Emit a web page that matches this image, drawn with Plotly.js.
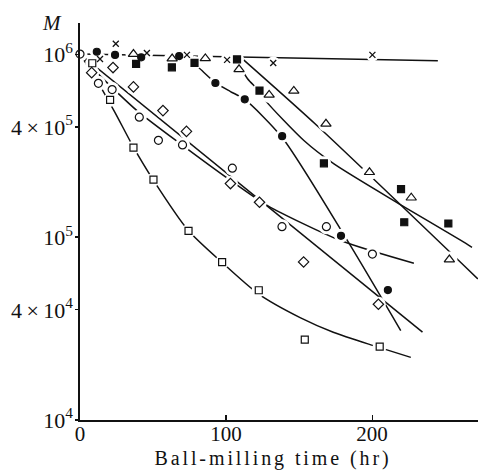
<!DOCTYPE html>
<html>
<head>
<meta charset="utf-8">
<script src="https://cdn.plot.ly/plotly-3.0.1.min.js"></script>
<style>
  html, body { margin: 0; padding: 0; background: #fff; }
  #chart { width: 479px; height: 470px; }
  .xtitle { letter-spacing: 2.9px; transform: translateX(-6px); }
</style>
</head>
<body>
<div id="chart"></div>
<script>
// ---- Data (x: ball-milling time in hr, y: M) ----
// Open squares
const sqOpenX = [8.4, 20.6, 36.6, 50.3, 74.3, 97.3, 122.4, 153.9, 205.2];
const sqOpenY = [8.91e5, 5.62e5, 3.08e5, 2.06e5, 1.08e5, 7.30e4, 5.12e4, 2.75e4, 2.52e4];
const sqOpenFitX = [0, 11.6, 24.0, 36.3, 50.0, 74.0, 97.3, 121.9, 150.7, 173.4, 200.9, 226.5];
const sqOpenFitY = [1e6, 7.17e5, 4.79e5, 3.13e5, 2.06e5, 1.09e5, 7.26e4, 4.91e4, 3.63e4, 3.02e4, 2.55e4, 2.20e4];

// Open circles
const circX = [0, 12.6, 22.0, 40.6, 53.7, 70.2, 104.3, 138.3, 168.7, 200.2];
const circY = [1e6, 6.92e5, 6.40e5, 4.52e5, 3.38e5, 3.19e5, 2.38e5, 1.14e5, 1.14e5, 8.07e4];
const circFitX = [0, 6.9, 22.0, 39.8, 68.6, 103, 128.1, 178.4, 228.6];
const circFitY = [1e6, 8.65e5, 6.56e5, 4.85e5, 3.24e5, 2.04e5, 1.49e5, 9.57e4, 7.19e4];

// Open diamonds
const diaX = [8.0, 22.6, 36.6, 56.8, 72.9, 103.0, 122.9, 153.1, 204.3];
const diaY = [7.92e5, 8.44e5, 6.62e5, 4.91e5, 3.78e5, 1.96e5, 1.55e5, 7.31e4, 4.29e4];
const diaFitX = [0, 234.5];
const diaFitY = [1e6, 3.02e4];

// Filled circles
const dotX = [11.5, 24.0, 41.9, 67.9, 92.7, 112.8, 138.4, 178.7, 210.8];
const dotY = [1.03e6, 0.99e6, 0.96e6, 0.975e6, 6.95e5, 5.66e5, 3.56e5, 1.016e5, 5.13e4];
const dotFitX = [71.9, 81.0, 92.7, 103, 112.6, 138.4, 183.0, 219.6];
const dotFitY = [9.75e5, 8.47e5, 6.98e5, 6.24e5, 5.67e5, 3.50e5, 9.58e4, 3.08e4];

// Filled squares
const sqFillX = [38.4, 62.9, 78.4, 107.5, 122.9, 167, 219.8, 222, 252.2];
const sqFillY = [8.84e5, 8.47e5, 8.95e5, 9.36e5, 6.32e5, 2.53e5, 1.83e5, 1.205e5, 1.186e5];
const sqFillFitX = [107.1, 114.6, 122.3, 127, 153.3, 173.9, 219.6, 260.8, 268.4];
const sqFillFitY = [9.39e5, 7.35e5, 6.32e5, 5.57e5, 3.37e5, 2.51e5, 1.50e5, 9.58e4, 8.79e4];

// Open triangles
const triX = [36.6, 63.1, 85.8, 108.9, 129.5, 146.4, 168.4, 198.2, 226.8, 252.9];
const triY = [1.0e6, 9.45e5, 9.47e5, 8.26e5, 5.98e5, 6.29e5, 4.16e5, 2.26e5, 1.64e5, 7.53e4];
const triFitX = [109.5, 162.4, 272.4];
const triFitY = [9.69e5, 4.06e5, 5.91e4];

// Crosses
const crossX = [13.7, 24.5, 45.8, 73.2, 100.7, 132.3, 200.2];
const crossY = [9.4e5, 1.14e6, 1.015e6, 0.99e6, 0.93e6, 0.895e6, 0.99e6];
const crossFitX = [0, 245];
const crossFitY = [1e6, 9.2e5];

// Ticks
const xTickVals = [0, 100, 200];
const xTickText = ['0', '100', '200'];
const yTickVals = [1e4, 4e4, 1e5, 4e5, 1e6];
const yTickText = ['10<sup>4</sup>', '4\u2009×\u200910<sup>4</sup>', '10<sup>5</sup>', '4\u2009×\u200910<sup>5</sup>', '10<sup>6</sup>'];

// ---- Build traces ----
const INK = '#111';
const fits = [
  [sqOpenFitX, sqOpenFitY], [circFitX, circFitY], [diaFitX, diaFitY],
  [dotFitX, dotFitY], [sqFillFitX, sqFillFitY], [triFitX, triFitY], [crossFitX, crossFitY]
];
const series = [
  {x: sqOpenX, y: sqOpenY, symbol: 'square', size: 7, fill: '#fff'},
  {x: circX, y: circY, symbol: 'circle', size: 8, fill: '#fff'},
  {x: diaX, y: diaY, symbol: 'diamond', size: 8, fill: '#fff'},
  {x: dotX, y: dotY, symbol: 'circle', size: 7, fill: INK},
  {x: sqFillX, y: sqFillY, symbol: 'square', size: 7, fill: INK},
  {x: triX, y: triY, symbol: 'triangle-up', size: 9, fill: '#fff'},
  {x: crossX, y: crossY, symbol: 'x-thin', size: 6, fill: INK}
];

const traces = [];
fits.forEach(([fx, fy]) => traces.push({
  x: fx, y: fy, type: 'scatter', mode: 'lines',
  line: {color: INK, width: 1.5, shape: 'spline', smoothing: 0.7},
  hoverinfo: 'skip', showlegend: false
}));
series.forEach(s => traces.push({
  x: s.x, y: s.y, type: 'scatter', mode: 'markers', cliponaxis: false,
  marker: {symbol: 'circle', size: s.size + 7, color: '#fff', line: {width: 0}},
  hoverinfo: 'skip', showlegend: false
}));
series.forEach(s => traces.push({
  x: s.x, y: s.y, type: 'scatter', mode: 'markers', cliponaxis: false,
  marker: {symbol: s.symbol, size: s.size, color: s.fill,
           line: {color: INK, width: s.symbol === 'x-thin' ? 1.3 : 1.2}},
  showlegend: false
}));

const FONT = '"Liberation Serif", "DejaVu Serif", serif';
const layout = {
  width: 479, height: 470,
  margin: {l: 80, r: 1, t: 23, b: 50},
  paper_bgcolor: '#fff', plot_bgcolor: '#fff',
  showlegend: false,
  font: {family: FONT, size: 20, color: INK},
  xaxis: {
    range: [0, 272.5], tickmode: 'array', tickvals: xTickVals, ticktext: xTickText,
    ticks: 'inside', ticklen: 5, tickwidth: 1.2, tickcolor: INK,
    ticklabelstandoff: -6,
    showline: true, linewidth: 1.6, linecolor: INK,
    showgrid: false, zeroline: false, automargin: false,
    tickfont: {family: FONT, size: 21, color: INK},
    title: {text: 'Ball-milling time (hr)', font: {family: FONT, size: 20, color: INK}, standoff: 8}
  },
  yaxis: {
    type: 'log', range: [4, 6.17], tickmode: 'array', tickvals: yTickVals, ticktext: yTickText,
    ticks: 'outside', ticklen: 3, tickwidth: 1.2, tickcolor: INK,
    ticklabelstandoff: -2,
    showline: true, linewidth: 1.6, linecolor: INK,
    showgrid: false, zeroline: false, automargin: false,
    tickfont: {family: FONT, size: 22, color: INK}
  },
  annotations: [{
    text: '<i>M</i>', xref: 'paper', yref: 'paper',
    x: (52 - 80) / 398, y: 1.0, xanchor: 'center', yanchor: 'middle',
    showarrow: false, font: {family: FONT, size: 21, color: INK}
  }]
};

Plotly.newPlot('chart', traces, layout, {staticPlot: true, displayModeBar: false});
</script>
</body>
</html>
